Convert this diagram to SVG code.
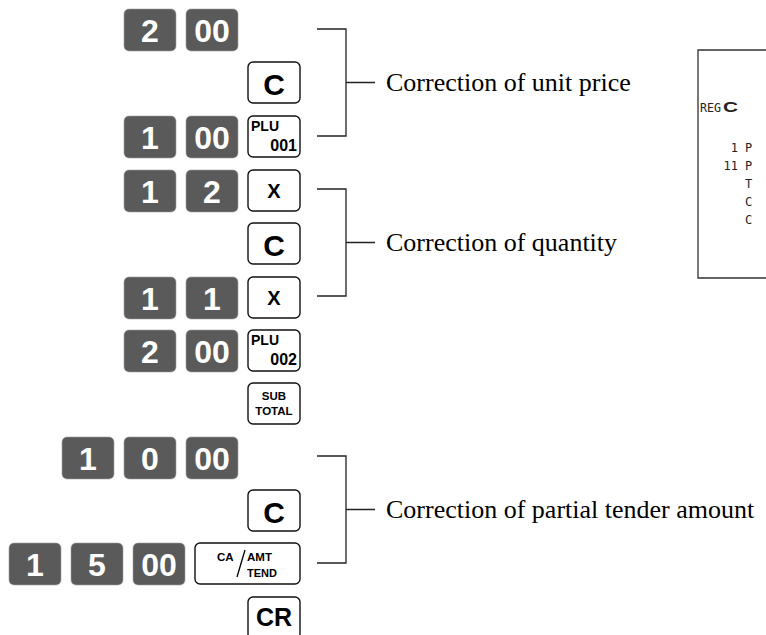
<svg xmlns="http://www.w3.org/2000/svg" width="766" height="635" viewBox="0 0 766 635">
<style>
.dk{fill:#5a5a5a;stroke:#a0a0a0;stroke-width:0.6}
.dt{fill:#fff;font-family:"Liberation Sans",Arial,sans-serif;font-weight:bold;font-size:32px;text-anchor:middle}
.fk{fill:#fff;stroke:#111;stroke-width:1.4}
.ft{fill:#000;font-family:"Liberation Sans",Arial,sans-serif;font-weight:bold}
.mid{text-anchor:middle}
.st{text-anchor:start}
.en{text-anchor:end}
.br{fill:none;stroke:#222;stroke-width:1.3}
.lb{fill:#000;font-family:"Liberation Serif","Times New Roman",serif;font-size:26px}
.rc{fill:#222;font-family:"DejaVu Sans Mono",monospace;font-size:12px}
</style>
<defs>
<rect id="dkey" width="52" height="42" rx="5" class="dk"/>
<rect id="fkey" width="52" height="41" rx="5" class="fk"/>
</defs>
<rect width="766" height="635" fill="#fff"/>

<g id="row1">
<use href="#dkey" x="124" y="9"/><text class="dt" x="150" y="42">2</text>
<use href="#dkey" x="186" y="9"/><text class="dt" x="212" y="42">00</text>
</g>
<g id="key-c1"><use href="#fkey" x="248" y="62"/><text class="ft mid" x="274" y="95" font-size="30">C</text></g>
<g id="row3">
<use href="#dkey" x="124" y="116"/><text class="dt" x="150" y="149">1</text>
<use href="#dkey" x="186" y="116"/><text class="dt" x="212" y="149">00</text>
<use href="#fkey" x="248" y="116"/>
<text class="ft st" x="251" y="131" font-size="14">PLU</text>
<text class="ft en" x="297" y="151" font-size="16">001</text>
</g>
<g id="row4">
<use href="#dkey" x="124" y="170"/><text class="dt" x="150" y="203">1</text>
<use href="#dkey" x="186" y="170"/><text class="dt" x="212" y="203">2</text>
<use href="#fkey" x="248" y="170"/><text class="ft mid" x="274" y="198" font-size="20">X</text>
</g>
<g id="key-c2"><use href="#fkey" x="248" y="223"/><text class="ft mid" x="274" y="256" font-size="30">C</text></g>
<g id="row6">
<use href="#dkey" x="124" y="277"/><text class="dt" x="150" y="310">1</text>
<use href="#dkey" x="186" y="277"/><text class="dt" x="212" y="310">1</text>
<use href="#fkey" x="248" y="277"/><text class="ft mid" x="274" y="305" font-size="20">X</text>
</g>
<g id="row7">
<use href="#dkey" x="124" y="330"/><text class="dt" x="150" y="363">2</text>
<use href="#dkey" x="186" y="330"/><text class="dt" x="212" y="363">00</text>
<use href="#fkey" x="248" y="330"/>
<text class="ft st" x="251" y="345" font-size="14">PLU</text>
<text class="ft en" x="297" y="365" font-size="16">002</text>
</g>
<g id="key-subtotal"><use href="#fkey" x="248" y="383"/>
<text class="ft mid" x="274" y="400" font-size="11.5">SUB</text>
<text class="ft mid" x="274" y="415" font-size="11.5">TOTAL</text>
</g>
<g id="row9">
<use href="#dkey" x="62" y="437"/><text class="dt" x="88" y="470">1</text>
<use href="#dkey" x="124" y="437"/><text class="dt" x="150" y="470">0</text>
<use href="#dkey" x="186" y="437"/><text class="dt" x="212" y="470">00</text>
</g>
<g id="key-c3"><use href="#fkey" x="248" y="490"/><text class="ft mid" x="274" y="523" font-size="30">C</text></g>
<g id="row11">
<use href="#dkey" x="9" y="543"/><text class="dt" x="35" y="576">1</text>
<use href="#dkey" x="71" y="543"/><text class="dt" x="97" y="576">5</text>
<use href="#dkey" x="133" y="543"/><text class="dt" x="159" y="576">00</text>
<rect x="195" y="543" width="105" height="41" rx="5" class="fk"/>
<text class="ft st" x="217" y="561" font-size="11.5">CA</text>
<text class="ft st" x="247" y="561" font-size="11.5">AMT</text>
<text class="ft st" x="247" y="577" font-size="11">TEND</text>
<path d="M237 577 L245 550" stroke="#000" stroke-width="1.3" fill="none"/>
</g>
<g id="key-cr"><rect x="248" y="597" width="52" height="42" rx="5" class="fk"/><text class="ft mid" x="274" y="626" font-size="25">CR</text></g>

<g id="connectors">
<path class="br" d="M317 29 H346 V136 H317 M346 82.5 H375"/>
<path class="br" d="M317 189 H346 V296 H317 M346 242.5 H375"/>
<path class="br" d="M317 456 H346 V563 H317 M346 509.5 H375"/>
</g>

<g id="label1"><text class="lb" x="386" y="91">Correction of unit price</text></g>
<g id="label2"><text class="lb" x="386" y="251">Correction of quantity</text></g>
<g id="label3"><text class="lb" x="386" y="518">Correction of partial tender amount</text></g>

<g id="receipt">
<path d="M780 50 H698 V278 H780" fill="none" stroke="#333" stroke-width="1.3"/>
<text class="rc" x="700" y="112" textLength="21" lengthAdjust="spacingAndGlyphs">REG</text>
<text x="723" y="112" font-family="'Liberation Sans',sans-serif" font-weight="bold" font-size="14" textLength="15" lengthAdjust="spacingAndGlyphs" fill="#222">C</text>
<text class="rc" x="738" y="152" text-anchor="end">1</text>
<text class="rc" x="745" y="152">P</text>
<text class="rc" x="738" y="170" text-anchor="end">11</text>
<text class="rc" x="745" y="170">P</text>
<text class="rc" x="745" y="188">T</text>
<text class="rc" x="745" y="206">C</text>
<text class="rc" x="745" y="224">C</text>
</g>
</svg>
